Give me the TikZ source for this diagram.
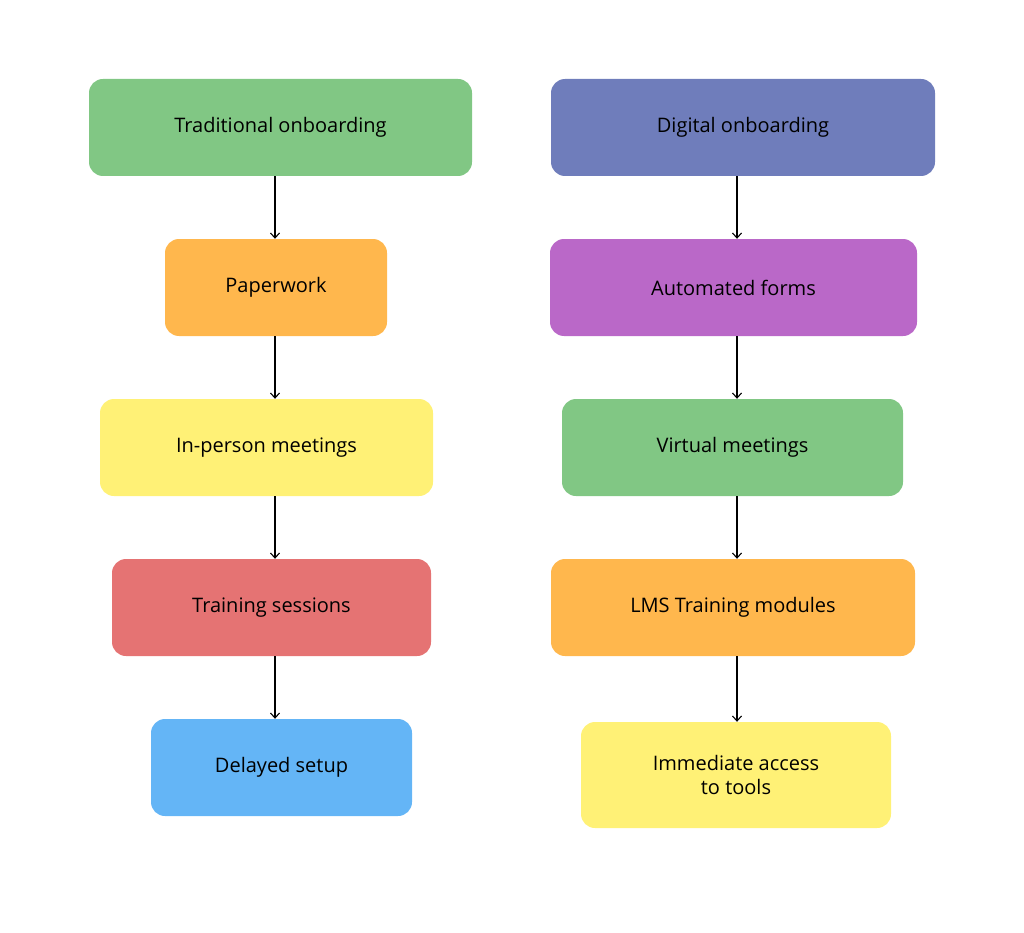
\documentclass[tikz,border=0pt]{standalone}
\usepackage{fontspec}
\setmainfont{Open Sans}
\usetikzlibrary{arrows.meta}
\definecolor{cgreen}{HTML}{81C784}
\definecolor{cindigo}{HTML}{6F7DBB}
\definecolor{corange}{HTML}{FFB74D}
\definecolor{cpurple}{HTML}{BA68C8}
\definecolor{cyellow}{HTML}{FFF176}
\definecolor{cred}{HTML}{E57373}
\definecolor{cblue}{HTML}{64B5F6}
\begin{document}
\begin{tikzpicture}[x=1pt,y=-1pt,
  box/.style={rounded corners=14pt,inner sep=0pt,align=center,font=\fontsize{20}{24}\selectfont},
  arr/.style={-{Straight Barb[length=5pt,width=9pt]},line width=1.1pt,black}]
\useasboundingbox (0,0) rectangle (1024,933);
\newcommand\bx[7]{\node[box,fill=#6,minimum width=#4-#2,minimum height=#5-#3] (#1) at ({(#2+#4)/2},{(#3+#5)/2}) {#7};}
\bx{l1}{89}{79}{472}{176}{cgreen}{Traditional onboarding}
\bx{l2}{165}{239}{387}{336}{corange}{Paperwork}
\bx{l3}{100}{399}{433}{496}{cyellow}{In-person meetings}
\bx{l4}{112}{559}{431}{656}{cred}{Training sessions}
\bx{l5}{151}{719}{412}{816}{cblue}{Delayed setup}
\bx{r1}{551}{79}{935}{176}{cindigo}{Digital onboarding}
\bx{r2}{550}{239}{917}{336}{cpurple}{Automated forms}
\bx{r3}{562}{399}{903}{496}{cgreen}{Virtual meetings}
\bx{r4}{551}{559}{915}{656}{corange}{LMS Training modules}
\bx{r5}{581}{722}{891}{828}{cyellow}{Immediate access\\to tools}
\foreach \a/\b in {l1/l2,l2/l3,l3/l4,l4/l5}
  \draw[arr] (\a.south -| 275,0) -- (\b.north -| 275,0);
\foreach \a/\b in {r1/r2,r2/r3,r3/r4,r4/r5}
  \draw[arr] (\a.south -| 737,0) -- (\b.north -| 737,0);
\end{tikzpicture}
\end{document}
